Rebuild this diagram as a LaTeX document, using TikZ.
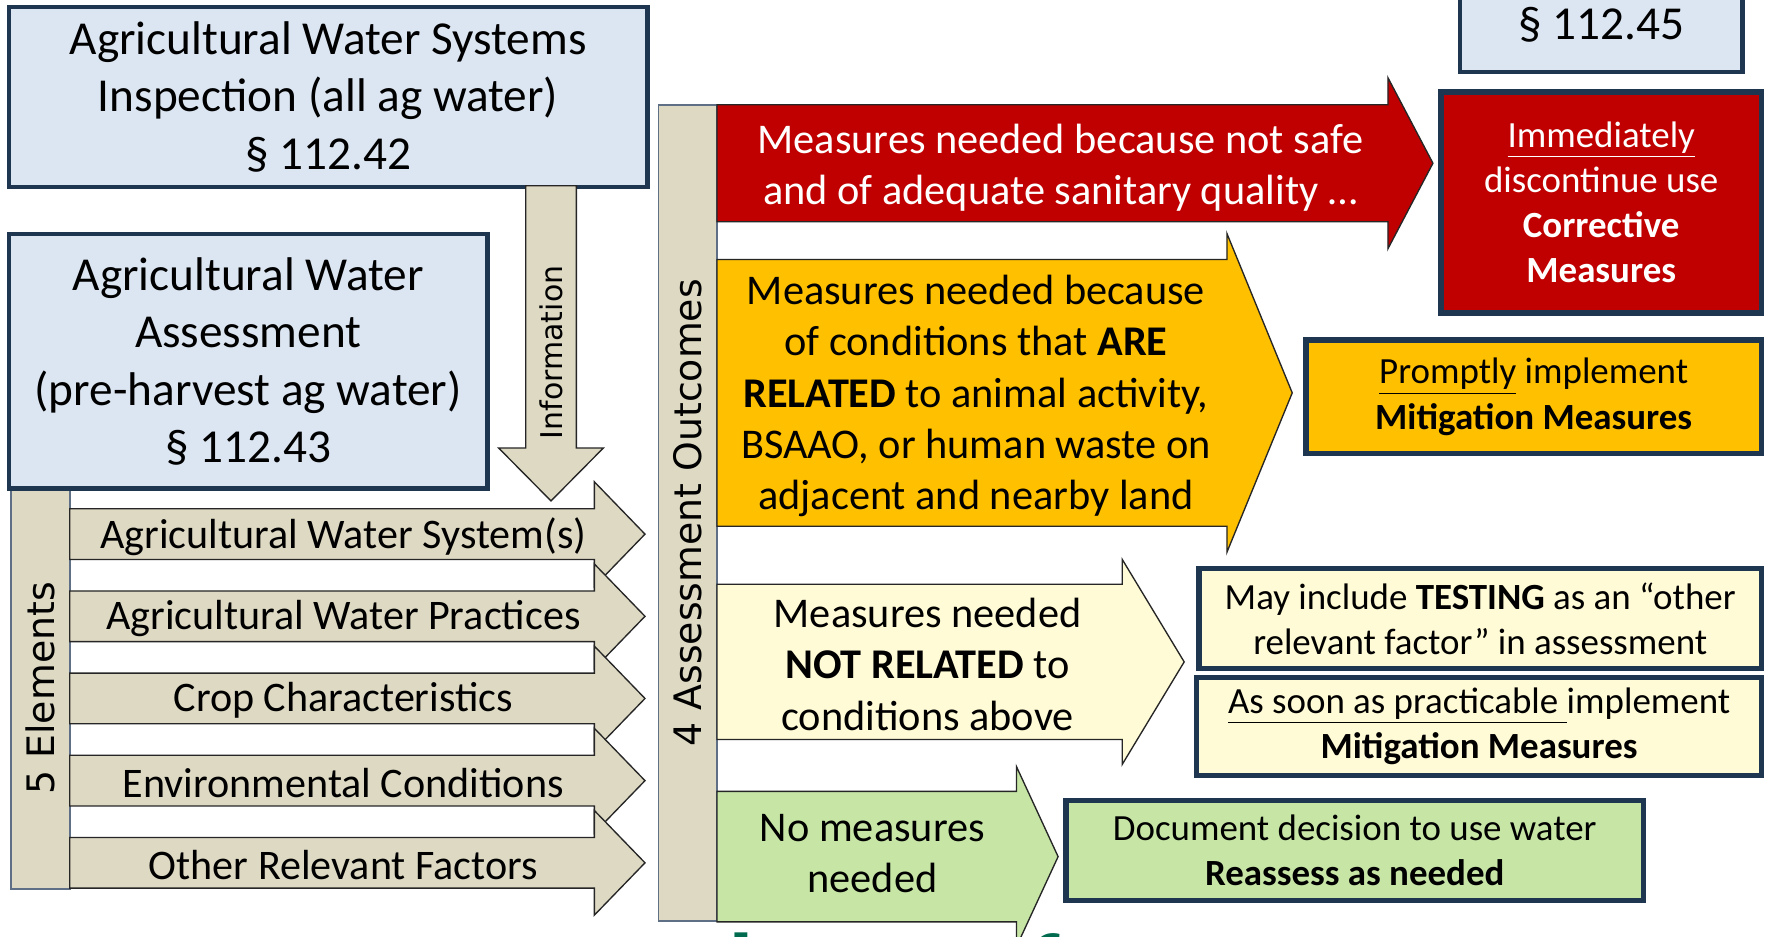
\documentclass[tikz,border=0pt]{standalone}
\usepackage{fontspec}
\setmainfont{Carlito}
\newfontfamily\barfont{DejaVu Sans}
\usepackage{tikz}

\definecolor{boxblue}{HTML}{DCE6F2}
\definecolor{boxline}{HTML}{1F3651}
\definecolor{barline}{HTML}{5F7086}
\definecolor{tanfill}{HTML}{DDD9C3}
\definecolor{unsafered}{HTML}{C00000}
\definecolor{relorange}{HTML}{FFC000}
\definecolor{palecream}{HTML}{FFFBD6}
\definecolor{okgreen}{HTML}{C7E6A6}
\definecolor{logogreen}{HTML}{006B4E}

% block arrow: [style]{tail x}{head base x}{tip x}{centre y}{half shaft}{half head}
\newcommand{\blockarrow}[7][]{%
  \filldraw[#1] (#2,#5-#6) -- (#3,#5-#6) -- (#3,#5-#7) -- (#4,#5)
    -- (#3,#5+#7) -- (#3,#5+#6) -- (#2,#5+#6) -- cycle;}

\begin{document}
\begin{tikzpicture}[x=0.5pt, y=-0.5pt,
  sect/.style={draw=boxline, line width=2pt, fill=boxblue, align=center, inner sep=0pt, font=\fontsize{21}{25.5}\selectfont},
  result/.style={draw=boxline, line width=2.5pt, align=center, inner sep=0pt, font=\fontsize{16.4}{20}\selectfont},
  tanshape/.style={fill=tanfill, draw=black!85, line width=0.6pt},
  bar/.style={fill=tanfill, draw=barline, line width=0.8pt, rotate=90, inner sep=0pt, font=\barfont\fontsize{16.8}{20}\selectfont},
  elem/.style={font=\fontsize{18.7}{22}\selectfont},
  outcome/.style={align=center, font=\fontsize{18.8}{22.8}\selectfont},
  edge/.style={draw=black!85, line width=0.6pt}]
  \useasboundingbox (0,0) rectangle (1568,832);
  \clip (0,0) rectangle (1568,832);
  \fill[white] (0,0) rectangle (1568,832);

  \node[anchor=base west, text=logogreen, inner sep=0pt, font=\fontsize{46}{50}\selectfont\bfseries] (logo) at (490,893) {Produce Safety};

  \node[sect, minimum width=283.5pt, minimum height=80pt] (inspection) at (291.5,86) {Agricultural Water Systems\\Inspection (all ag water)\\§ 112.42};
  \filldraw[tanshape] (467,165) -- (512,165) -- (512,398) -- (536,398) -- (489.5,445) -- (443,398) -- (467,398) -- cycle;
  \node[rotate=90, font=\barfont\fontsize{13.3}{16}\selectfont] (info) at (489.5,313) {Information};

  \node[bar, minimum width=178.5pt, minimum height=26pt] (elements) at (36,611.5) {5 Elements};
  \node[sect, minimum width=212.5pt, minimum height=113pt] (assessment) at (220.5,321) {Agricultural Water\\Assessment\\(pre-harvest ag water)\\§ 112.43};

  \foreach \lbl [count=\i from 0] in {Agricultural Water System(s), Agricultural Water Practices, Crop Characteristics, Environmental Conditions, Other Relevant Factors} {
    \pgfmathsetmacro\yc{474.5+73*\i}
    \blockarrow[tanshape]{62}{528}{573}{\yc}{22.5}{46.5}
    \node[elem] (elem\i) at (305,\yc+2) {\lbl};
  }

  \node[bar, minimum width=362.5pt, minimum height=26pt] (outcomes) at (611,455.5) {4 Assessment Outcomes};

  \blockarrow[edge, fill=unsafered]{637}{1233}{1273}{145}{52}{76}
  \node[outcome, text=white] (unsafe) at (942,149) {Measures needed because not safe\\and of adequate sanitary quality …};
  \blockarrow[edge, fill=relorange]{637}{1090}{1148}{349}{118.5}{141.5}
  \node[outcome] (related) at (867,352) {Measures needed because\\of conditions that \textbf{ARE}\\\textbf{RELATED} to animal activity,\\BSAAO, or human waste on\\adjacent and nearby land};
  \blockarrow[edge, fill=palecream]{637}{997}{1052}{588}{69}{91}
  \node[outcome] (unrelated) at (824,590) {Measures needed\\\textbf{NOT RELATED} to\\conditions above};
  \blockarrow[edge, fill=okgreen]{637}{903}{940}{761}{58}{80}
  \node[outcome] (none) at (775,758) {No measures\\needed};

  \node[sect, minimum width=125.5pt, minimum height=42pt] (sec45) at (1422.5,22) {§ 112.45};
  \node[result, fill=unsafered, text=white, minimum width=142.5pt, minimum height=98pt] (corrective) at (1422.5,180) {\underline{Immediately}\\discontinue use\\\textbf{Corrective}\\\textbf{Measures}};
  \node[result, fill=relorange, minimum width=202.5pt, minimum height=50.5pt] (prompt) at (1362.5,352.5) {\underline{Promptly} implement\\\textbf{Mitigation Measures}};
  \node[result, fill=palecream, minimum width=250pt, minimum height=44.5pt] (testing) at (1315,549.5) {May include \textbf{TESTING} as an “other\\relevant factor” in assessment};
  \node[result, fill=palecream, minimum width=251pt, minimum height=43.5pt] (practicable) at (1314,645.5) {\underline{As soon as practicable\ }implement\\\textbf{Mitigation Measures}};
  \node[result, fill=okgreen, minimum width=256.5pt, minimum height=44.5pt] (document) at (1203.5,755.5) {Document decision to use water\\\textbf{Reassess as needed}};
\end{tikzpicture}
\end{document}
